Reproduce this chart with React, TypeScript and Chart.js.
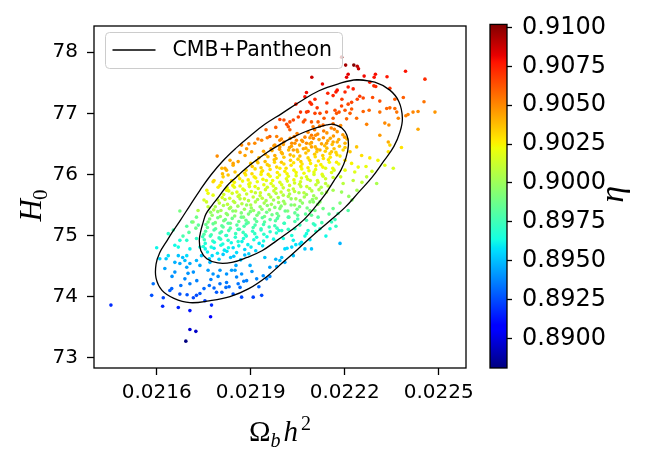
import { useEffect, useRef } from "react";
import { Chart, registerables } from "chart.js";

Chart.register(...registerables);

// Each sample is [Ω_b h², H0, η]
type Sample = [number, number, number];

const omegaTicks = [0.0216, 0.0219, 0.0222, 0.0225];
const hubbleTicks = [73, 74, 75, 76, 77, 78];
const etaTicks = [0.89, 0.8925, 0.895, 0.8975, 0.9, 0.9025, 0.905, 0.9075, 0.91];
const omegaRange = [0.0214, 0.022587];
const hubbleRange = [72.83, 78.43];
const etaRange = [0.8881, 0.9102];

const seriesLabel = "CMB+Pantheon";

// 1σ and 2σ confidence contours, [Ω_b h², H0]
const contourInner: [number, number][] = [
  [0.022165, 76.82], [0.022191, 76.76], [0.022207, 76.64], [0.022212, 76.48], [0.022204, 76.27],
  [0.022188, 76.07], [0.022165, 75.89], [0.02214, 75.69], [0.022108, 75.48], [0.02207, 75.26],
  [0.022028, 75.08], [0.021984, 74.92], [0.021936, 74.75], [0.021888, 74.64], [0.02184, 74.56],
  [0.021795, 74.55], [0.02176, 74.62], [0.021741, 74.75], [0.021736, 74.92], [0.021741, 75.08],
  [0.021748, 75.21], [0.021757, 75.35], [0.021776, 75.49], [0.021799, 75.64], [0.021824, 75.81],
  [0.021853, 75.95], [0.021885, 76.1], [0.021917, 76.23], [0.021952, 76.36], [0.02199, 76.48],
  [0.022028, 76.59], [0.02207, 76.69], [0.022114, 76.77], [0.022143, 76.81],
];
const contourOuter: [number, number][] = [
  [0.022239, 77.55], [0.022296, 77.51], [0.022344, 77.38], [0.022373, 77.19], [0.022384, 76.92],
  [0.022376, 76.69], [0.022357, 76.46], [0.022325, 76.22], [0.022287, 75.95], [0.022245, 75.71],
  [0.022201, 75.46], [0.02215, 75.23], [0.022098, 75.0], [0.022051, 74.78], [0.022003, 74.56],
  [0.021952, 74.33], [0.021894, 74.13], [0.021834, 74.0], [0.021767, 73.93], [0.021706, 73.9],
  [0.021655, 73.97], [0.021617, 74.1], [0.021598, 74.3], [0.021598, 74.53], [0.02161, 74.72],
  [0.02163, 74.89], [0.021652, 75.07], [0.021677, 75.26], [0.021706, 75.49], [0.021738, 75.74],
  [0.021773, 75.99], [0.021811, 76.22], [0.021853, 76.43], [0.021898, 76.63], [0.021945, 76.82],
  [0.022, 77.0], [0.022057, 77.19], [0.022118, 77.37], [0.022178, 77.48],
];

// chain samples in the tails, outside the dense core
const haloSamples: Sample[] = [
  [0.02219, 77.92, 0.9099], [0.022203, 77.79, 0.9095], [0.022229, 77.79, 0.9102], [0.02224, 77.77, 0.909],
  [0.022244, 77.73, 0.9088], [0.022394, 77.69, 0.9078], [0.022211, 77.64, 0.9083], [0.022206, 77.59, 0.9082],
  [0.022262, 77.61, 0.908], [0.022298, 77.64, 0.9079], [0.022294, 77.59, 0.9078], [0.022335, 77.6, 0.9077],
  [0.022095, 77.59, 0.9088], [0.022456, 77.56, 0.9072], [0.022129, 77.48, 0.9082], [0.02228, 77.51, 0.9076],
  [0.022293, 77.45, 0.9073], [0.022299, 77.44, 0.9072], [0.022344, 77.41, 0.907], [0.022211, 77.43, 0.9077],
  [0.022227, 77.4, 0.9075], [0.022176, 77.38, 0.9077], [0.022163, 77.29, 0.9074], [0.022172, 77.35, 0.9076],
  [0.022073, 77.27, 0.9078], [0.022078, 77.34, 0.908], [0.02224, 77.23, 0.9067], [0.022259, 77.25, 0.9066],
  [0.022289, 77.26, 0.9065], [0.022387, 77.26, 0.906], [0.02236, 77.23, 0.9061], [0.022089, 77.18, 0.9073],
  [0.022094, 77.15, 0.9072], [0.022112, 77.09, 0.907], [0.02219, 77.12, 0.9066], [0.022211, 77.15, 0.9065],
  [0.022222, 77.18, 0.9066], [0.022453, 77.19, 0.9055], [0.022344, 77.09, 0.9058], [0.02236, 77.08, 0.9057],
  [0.022334, 77.08, 0.9059], [0.022083, 77.03, 0.907], [0.022169, 77.05, 0.9064], [0.022174, 77.0, 0.9062],
  [0.022312, 77.02, 0.9056], [0.022278, 77.05, 0.9058], [0.022259, 77.03, 0.9059], [0.022222, 77.07, 0.9062],
  [0.022217, 77.0, 0.906], [0.022201, 77.05, 0.9062], [0.022182, 77.02, 0.9063], [0.022142, 77.02, 0.9065],
  [0.022121, 77.0, 0.9066], [0.022105, 77.0, 0.9067], [0.022078, 77.02, 0.9069], [0.022059, 77.02, 0.907],
  [0.022402, 76.98, 0.9052], [0.022418, 77.02, 0.9051], [0.022434, 77.03, 0.905], [0.022488, 77.02, 0.9047],
  [0.022395, 76.96, 0.9052], [0.022052, 76.94, 0.9067], [0.022073, 76.89, 0.9064], [0.022134, 76.92, 0.9062],
  [0.022163, 76.92, 0.906], [0.022206, 76.91, 0.9058], [0.022238, 76.92, 0.9057], [0.022371, 76.92, 0.9051],
  [0.022036, 76.89, 0.9066], [0.022015, 76.82, 0.9065], [0.022094, 76.86, 0.9061], [0.02227, 76.82, 0.9052],
  [0.022328, 76.84, 0.905], [0.022434, 76.74, 0.9043], [0.022312, 76.64, 0.9046], [0.022339, 76.53, 0.9042],
  [0.022025, 76.86, 0.9064], [0.021993, 76.9, 0.9068], [0.02202, 76.78, 0.9062], [0.022025, 76.73, 0.906],
  [0.021961, 76.62, 0.906], [0.022238, 76.45, 0.9036], [0.022217, 76.37, 0.9035], [0.022254, 76.31, 0.903],
  [0.022344, 76.48, 0.9032], [0.022339, 76.37, 0.9029], [0.022381, 76.44, 0.9029], [0.022355, 76.1, 0.9016],
  [0.022328, 76.15, 0.9019], [0.022268, 76.13, 0.9021], [0.022243, 76.12, 0.9022], [0.022222, 76.18, 0.9025],
  [0.022201, 76.23, 0.9028], [0.022227, 75.9, 0.901], [0.02227, 75.96, 0.901], [0.022302, 75.85, 0.9004],
  [0.022187, 75.96, 0.9014], [0.022195, 75.85, 0.9008], [0.02219, 75.71, 0.9], [0.022163, 75.74, 0.9003],
  [0.022163, 75.44, 0.8987], [0.022131, 75.44, 0.8989], [0.022121, 75.55, 0.8995], [0.022105, 75.41, 0.8988],
  [0.0221, 75.55, 0.8996], [0.022094, 75.33, 0.8984], [0.022115, 75.3, 0.8981], [0.022211, 75.41, 0.898],
  [0.022179, 75.36, 0.898], [0.022169, 75.26, 0.8975], [0.022158, 75.22, 0.8973], [0.022153, 75.11, 0.8967],
  [0.022121, 75.11, 0.8969], [0.0221, 75.19, 0.8974], [0.022083, 75.08, 0.8968], [0.022078, 75.25, 0.8977],
  [0.022057, 75.17, 0.8974], [0.022041, 75.11, 0.8971], [0.022031, 75.0, 0.8966], [0.022036, 74.92, 0.8961],
  [0.022062, 74.89, 0.8958], [0.022089, 74.93, 0.8958], [0.022073, 74.78, 0.8952], [0.022094, 74.78, 0.8951],
  [0.022185, 74.87, 0.8948], [0.022004, 74.95, 0.8964], [0.021999, 75.08, 0.897], [0.022009, 74.78, 0.8956],
  [0.022036, 74.67, 0.895], [0.021993, 74.59, 0.8949], [0.022031, 74.81, 0.8955], [0.022057, 74.86, 0.8956],
  [0.022078, 75.03, 0.8965], [0.022105, 75.17, 0.8971], [0.021919, 74.29, 0.8938], [0.02194, 74.34, 0.8939],
  [0.021983, 74.49, 0.8944], [0.021999, 74.64, 0.895], [0.022009, 74.56, 0.8946], [0.021961, 74.48, 0.8944],
  [0.021945, 74.64, 0.8951], [0.021898, 74.51, 0.8946], [0.02185, 74.43, 0.8943], [0.021823, 74.37, 0.8941],
  [0.021796, 74.33, 0.894], [0.02178, 74.37, 0.8941], [0.021764, 74.43, 0.8943], [0.021706, 74.21, 0.8936],
  [0.02169, 74.29, 0.8938], [0.021717, 74.4, 0.8941], [0.021696, 74.48, 0.8944], [0.021658, 74.56, 0.8947],
  [0.021674, 74.54, 0.8946], [0.021706, 74.54, 0.8946], [0.021738, 74.51, 0.8945], [0.021727, 74.59, 0.8948],
  [0.021683, 74.64, 0.895], [0.021669, 74.67, 0.8951], [0.021589, 74.21, 0.8933], [0.021584, 74.02, 0.8926],
  [0.021454, 73.86, 0.8918], [0.021642, 74.1, 0.8929], [0.021648, 74.13, 0.893], [0.021621, 73.98, 0.8924],
  [0.021619, 73.84, 0.8917], [0.021674, 74.04, 0.8926], [0.021669, 73.82, 0.8916], [0.021706, 73.77, 0.8913],
  [0.021706, 73.46, 0.8897], [0.021725, 73.43, 0.8895], [0.021693, 73.27, 0.8881], [0.021727, 74.02, 0.8925],
  [0.021717, 73.98, 0.8924], [0.021754, 73.93, 0.8922], [0.021768, 74.18, 0.8933], [0.021783, 74.14, 0.8931],
  [0.021791, 74.07, 0.8928], [0.021775, 73.86, 0.8918], [0.021772, 73.67, 0.8906], [0.021823, 74.23, 0.8935],
  [0.021821, 74.15, 0.8932], [0.021844, 74.04, 0.8927], [0.021871, 73.99, 0.8924], [0.021908, 73.99, 0.8923],
  [0.021935, 74.02, 0.8924], [0.02186, 74.21, 0.8934], [0.021855, 74.32, 0.8938], [0.021887, 74.26, 0.8936],
  [0.021951, 74.29, 0.8937], [0.021637, 75.03, 0.897], [0.021674, 74.92, 0.8966], [0.021658, 74.84, 0.8963],
  [0.021706, 74.78, 0.8961], [0.02169, 74.59, 0.895], [0.021743, 74.67, 0.8953], [0.02177, 74.56, 0.8948],
  [0.021658, 74.4, 0.8941], [0.021839, 74.43, 0.8943], [0.021871, 74.37, 0.894], [0.021802, 74.21, 0.8934],
  [0.021866, 74.15, 0.8932], [0.021793, 76.3, 0.9049], [0.021823, 76.07, 0.904], [0.02181, 76.01, 0.9038],
  [0.021828, 75.99, 0.9036], [0.021844, 76.15, 0.9041], [0.02185, 76.04, 0.9036], [0.021807, 75.87, 0.903],
  [0.021796, 75.79, 0.9026], [0.02178, 75.66, 0.902], [0.021759, 75.55, 0.9014], [0.021764, 75.47, 0.901],
  [0.021674, 75.4, 0.899], [0.021727, 75.3, 0.8988], [0.021712, 75.22, 0.8984], [0.021733, 75.17, 0.8983],
  [0.021696, 75.15, 0.8982], [0.021653, 75.09, 0.8978], [0.021696, 74.92, 0.897], [0.021727, 74.95, 0.8971],
  [0.021738, 74.81, 0.8964], [0.021669, 74.81, 0.8964], [0.0216, 74.8, 0.8962], [0.021637, 74.67, 0.8958],
  [0.021696, 74.67, 0.8957], [0.02161, 74.62, 0.8955], [0.021871, 76.48, 0.905], [0.021887, 76.42, 0.9047],
  [0.021903, 76.37, 0.9045], [0.021882, 76.31, 0.9044], [0.021913, 76.51, 0.905], [0.021935, 76.56, 0.9051],
  [0.021953, 76.6, 0.9053], [0.021983, 76.62, 0.9052], [0.021993, 76.56, 0.905], [0.021977, 76.48, 0.9047],
  [0.021993, 76.45, 0.9045], [0.022068, 76.86, 0.9063], [0.022115, 76.86, 0.906], [0.022131, 76.81, 0.9058],
  [0.022163, 76.83, 0.9056], [0.022094, 76.64, 0.9054], [0.0221, 76.59, 0.9051], [0.022078, 76.51, 0.9049],
  [0.022046, 76.56, 0.9051], [0.022031, 76.51, 0.9049], [0.022036, 76.4, 0.9045], [0.022068, 76.42, 0.9044],
  [0.022094, 76.45, 0.9044], [0.022121, 76.4, 0.9041], [0.022142, 76.51, 0.9044], [0.022163, 76.53, 0.9043],
  [0.022158, 76.37, 0.9037], [0.021818, 76.1, 0.9042], [0.021844, 76.18, 0.9044], [0.02186, 76.21, 0.9044],
  [0.021812, 75.96, 0.9034], [0.021839, 75.9, 0.903], [0.021802, 75.82, 0.9028], [0.021823, 75.74, 0.9024],
  [0.021764, 75.69, 0.9022], [0.02178, 75.88, 0.9031],
];

// chain samples in the band between the 1σ and 2σ contours
const flankSamples: Sample[] = [
  [0.021626, 74.46, 0.8944], [0.021649, 74.33, 0.894], [0.021677, 74.18, 0.8934], [0.0217, 74.38, 0.8941],
  [0.021728, 74.26, 0.8937], [0.021751, 74.13, 0.8931], [0.021773, 74.28, 0.8937], [0.021802, 74.43, 0.8942],
  [0.021831, 74.16, 0.8932], [0.021853, 74.51, 0.8945], [0.021878, 74.25, 0.8936], [0.021904, 74.41, 0.8941],
  [0.021926, 74.16, 0.8931], [0.021961, 74.33, 0.8938], [0.02198, 74.61, 0.8948], [0.02163, 74.62, 0.8952],
  [0.021738, 74.05, 0.8928], [0.021697, 74.03, 0.8927], [0.021808, 74.07, 0.8928],
  [0.022232, 76.04, 0.9018], [0.022255, 75.87, 0.9009], [0.022287, 76.05, 0.9015], [0.022213, 75.64, 0.8998],
  [0.022239, 75.74, 0.9002], [0.022185, 75.53, 0.8993], [0.02215, 75.35, 0.8984], [0.022127, 75.21, 0.8977],
  [0.022108, 75.07, 0.897], [0.022073, 74.99, 0.8965], [0.022044, 74.85, 0.8958], [0.022016, 74.79, 0.8956],
  [0.022201, 76.07, 0.9021], [0.022306, 76.23, 0.9024], [0.02228, 76.27, 0.9027], [0.022223, 75.58, 0.8994],
  [0.022172, 75.15, 0.8972], [0.02214, 74.99, 0.8963],
  [0.021834, 76.23, 0.9043], [0.021866, 76.36, 0.9047], [0.021894, 76.5, 0.9051], [0.021923, 76.58, 0.9054],
  [0.021949, 76.73, 0.9059], [0.02198, 76.77, 0.906], [0.022006, 76.89, 0.9064], [0.021808, 76.1, 0.9039],
  [0.021783, 75.9, 0.9031], [0.02176, 75.74, 0.9024], [0.021751, 75.58, 0.9015], [0.021732, 75.41, 0.9006],
  [0.021716, 75.22, 0.8994], [0.021703, 75.05, 0.8982], [0.021684, 74.99, 0.8978], [0.021725, 75.12, 0.8987],
  [0.022044, 77.15, 0.9074], [0.022105, 77.23, 0.9073], [0.022146, 77.33, 0.9074], [0.022201, 77.35, 0.9073],
  [0.022248, 77.28, 0.9069], [0.022312, 77.2, 0.9064], [0.022366, 77.02, 0.9055], [0.022341, 76.81, 0.9049],
  [0.022191, 77.23, 0.9069], [0.022143, 77.17, 0.907],
];

// chain samples inside the 1σ region, row by row in H0
const coreSamples: Sample[] = [
  [0.022099, 76.78, 0.9054], [0.022104, 76.73, 0.9054], [0.02212, 76.79, 0.9053], [0.022133, 76.71, 0.9053], [0.022157, 76.76, 0.9052], [0.022167, 76.74, 0.9051], [0.022187, 76.8, 0.905],
  [0.022039, 76.62, 0.9053], [0.022048, 76.67, 0.9052], [0.022073, 76.61, 0.9051], [0.022083, 76.69, 0.9051], [0.022107, 76.64, 0.9049], [0.022114, 76.66, 0.9049], [0.022132, 76.6, 0.9048], [0.022143, 76.68, 0.9047], [0.022164, 76.63, 0.9046], [0.022176, 76.7, 0.9046], [0.022194, 76.65, 0.9045], [0.0222, 76.61, 0.9045],
  [0.021998, 76.58, 0.905], [0.022006, 76.53, 0.905], [0.022026, 76.59, 0.9049], [0.022041, 76.51, 0.9048], [0.022063, 76.56, 0.9047], [0.022066, 76.54, 0.9047], [0.022089, 76.6, 0.9045], [0.022094, 76.52, 0.9045], [0.022118, 76.57, 0.9044], [0.022126, 76.5, 0.9044], [0.022146, 76.55, 0.9043], [0.022154, 76.59, 0.9042], [0.022176, 76.53, 0.9041], [0.022181, 76.57, 0.9041], [0.022201, 76.51, 0.904], [0.022207, 76.58, 0.904],
  [0.021965, 76.42, 0.9047], [0.021974, 76.47, 0.9046], [0.021992, 76.41, 0.9046], [0.022004, 76.49, 0.9045], [0.022024, 76.44, 0.9044], [0.02203, 76.46, 0.9044], [0.022048, 76.4, 0.9043], [0.022056, 76.48, 0.9042], [0.022076, 76.43, 0.9041], [0.022089, 76.5, 0.9041], [0.022106, 76.45, 0.904], [0.022112, 76.41, 0.904], [0.022136, 76.47, 0.9038], [0.022143, 76.43, 0.9038], [0.02216, 76.49, 0.9037], [0.022166, 76.42, 0.9037], [0.022183, 76.46, 0.9036], [0.022201, 76.44, 0.9035],
  [0.021941, 76.38, 0.9043], [0.021947, 76.33, 0.9043], [0.021968, 76.39, 0.9042], [0.021977, 76.31, 0.9042], [0.021998, 76.36, 0.904], [0.022001, 76.34, 0.904], [0.022021, 76.4, 0.9039], [0.022026, 76.32, 0.9039], [0.02205, 76.37, 0.9038], [0.022057, 76.3, 0.9038], [0.022076, 76.35, 0.9037], [0.022084, 76.39, 0.9036], [0.022104, 76.33, 0.9035], [0.022111, 76.37, 0.9035], [0.02213, 76.31, 0.9034], [0.022138, 76.38, 0.9033], [0.022153, 76.34, 0.9033], [0.022172, 76.36, 0.9032], [0.022175, 76.32, 0.9032], [0.022195, 76.4, 0.9031],
  [0.02192, 76.22, 0.904], [0.021926, 76.27, 0.9039], [0.021946, 76.21, 0.9038], [0.021955, 76.29, 0.9038], [0.021975, 76.24, 0.9037], [0.021981, 76.26, 0.9037], [0.021998, 76.2, 0.9036], [0.022006, 76.28, 0.9035], [0.022027, 76.23, 0.9034], [0.022037, 76.3, 0.9034], [0.022051, 76.25, 0.9033], [0.02206, 76.21, 0.9033], [0.022083, 76.27, 0.9032], [0.022088, 76.23, 0.9031], [0.022106, 76.29, 0.903], [0.022116, 76.22, 0.903], [0.022132, 76.26, 0.9029], [0.022148, 76.24, 0.9028], [0.022154, 76.28, 0.9028], [0.022174, 76.2, 0.9027], [0.022185, 76.3, 0.9026],
  [0.0219, 76.18, 0.9036], [0.021905, 76.13, 0.9036], [0.021923, 76.19, 0.9035], [0.021933, 76.11, 0.9034], [0.021953, 76.16, 0.9033], [0.021959, 76.14, 0.9033], [0.021976, 76.2, 0.9032], [0.021983, 76.12, 0.9032], [0.022006, 76.17, 0.9031], [0.022013, 76.1, 0.903], [0.022029, 76.15, 0.9029], [0.022037, 76.19, 0.9029], [0.02206, 76.13, 0.9028], [0.022064, 76.17, 0.9028], [0.022083, 76.11, 0.9027], [0.022091, 76.18, 0.9026], [0.022108, 76.14, 0.9026], [0.022124, 76.16, 0.9025], [0.02213, 76.12, 0.9024], [0.022151, 76.2, 0.9023], [0.022162, 76.1, 0.9023], [0.022181, 76.17, 0.9022],
  [0.021881, 76.02, 0.9032], [0.021885, 76.07, 0.9032], [0.021904, 76.01, 0.9031], [0.021914, 76.09, 0.903], [0.021934, 76.04, 0.9029], [0.021938, 76.06, 0.9029], [0.021956, 76.0, 0.9028], [0.021962, 76.08, 0.9028], [0.021985, 76.03, 0.9027], [0.021993, 76.1, 0.9026], [0.022009, 76.05, 0.9026], [0.022016, 76.01, 0.9025], [0.022038, 76.07, 0.9024], [0.022045, 76.03, 0.9024], [0.022063, 76.09, 0.9023], [0.02207, 76.02, 0.9023], [0.022086, 76.06, 0.9022], [0.022102, 76.04, 0.9021], [0.022107, 76.08, 0.9021], [0.022128, 76.0, 0.902], [0.022139, 76.1, 0.9019], [0.022158, 76.03, 0.9018], [0.022166, 76.07, 0.9018],
  [0.02186, 75.98, 0.9028], [0.021865, 75.93, 0.9028], [0.021884, 75.99, 0.9027], [0.021892, 75.91, 0.9027], [0.021911, 75.96, 0.9026], [0.021916, 75.94, 0.9026], [0.021933, 76.0, 0.9025], [0.021939, 75.92, 0.9024], [0.021962, 75.97, 0.9023], [0.02197, 75.9, 0.9023], [0.021985, 75.95, 0.9022], [0.021992, 75.99, 0.9022], [0.022014, 75.93, 0.9021], [0.02202, 75.97, 0.902], [0.022038, 75.91, 0.902], [0.022045, 75.98, 0.9019], [0.022062, 75.94, 0.9018], [0.022078, 75.96, 0.9018], [0.022082, 75.92, 0.9017], [0.022102, 76.0, 0.9016], [0.022113, 75.9, 0.9016], [0.022131, 75.97, 0.9015], [0.022139, 75.93, 0.9014], [0.022163, 75.95, 0.9013],
  [0.021843, 75.82, 0.9025], [0.021848, 75.87, 0.9024], [0.021866, 75.81, 0.9023], [0.021874, 75.89, 0.9023], [0.021894, 75.84, 0.9022], [0.021898, 75.86, 0.9022], [0.021914, 75.8, 0.9021], [0.021921, 75.88, 0.9021], [0.021942, 75.83, 0.902], [0.02195, 75.9, 0.9019], [0.021965, 75.85, 0.9018], [0.021972, 75.81, 0.9018], [0.021993, 75.87, 0.9017], [0.021999, 75.83, 0.9017], [0.022017, 75.89, 0.9016], [0.022024, 75.82, 0.9015], [0.02204, 75.86, 0.9015], [0.022056, 75.84, 0.9014], [0.022059, 75.88, 0.9014], [0.022079, 75.8, 0.9013], [0.02209, 75.9, 0.9012], [0.022108, 75.83, 0.9011], [0.022115, 75.87, 0.9011], [0.022139, 75.85, 0.901], [0.022147, 75.81, 0.9009],
  [0.021825, 75.78, 0.9021], [0.02183, 75.73, 0.902], [0.021848, 75.79, 0.902], [0.021856, 75.71, 0.9019], [0.021875, 75.76, 0.9018], [0.02188, 75.74, 0.9018], [0.021896, 75.8, 0.9017], [0.021902, 75.72, 0.9017], [0.021924, 75.77, 0.9016], [0.021931, 75.7, 0.9015], [0.021947, 75.75, 0.9015], [0.021953, 75.79, 0.9014], [0.021974, 75.73, 0.9013], [0.02198, 75.77, 0.9013], [0.021997, 75.71, 0.9012], [0.022004, 75.78, 0.9012], [0.022021, 75.74, 0.9011], [0.022036, 75.76, 0.901], [0.02204, 75.72, 0.901], [0.02206, 75.8, 0.9009], [0.02207, 75.7, 0.9008], [0.022088, 75.77, 0.9008], [0.022095, 75.73, 0.9007], [0.022118, 75.75, 0.9006], [0.022125, 75.79, 0.9006], [0.022142, 75.71, 0.9005],
  [0.021809, 75.62, 0.9016], [0.021814, 75.67, 0.9015], [0.021833, 75.61, 0.9014], [0.021841, 75.69, 0.9014], [0.02186, 75.64, 0.9013], [0.021864, 75.66, 0.9013], [0.02188, 75.6, 0.9012], [0.021887, 75.68, 0.9012], [0.021908, 75.63, 0.9011], [0.021915, 75.7, 0.901], [0.02193, 75.65, 0.901], [0.021937, 75.61, 0.9009], [0.021958, 75.67, 0.9008], [0.021964, 75.63, 0.9008], [0.021981, 75.69, 0.9007], [0.021988, 75.62, 0.9007], [0.022004, 75.66, 0.9006], [0.02202, 75.64, 0.9005], [0.022024, 75.68, 0.9005], [0.022044, 75.6, 0.9004], [0.022054, 75.7, 0.9003], [0.022071, 75.63, 0.9003], [0.022078, 75.67, 0.9002], [0.022101, 75.65, 0.9001], [0.022109, 75.61, 0.9001], [0.022127, 75.69, 0.9],
  [0.021795, 75.58, 0.9011], [0.0218, 75.53, 0.901], [0.021818, 75.59, 0.901], [0.021826, 75.51, 0.9009], [0.021845, 75.56, 0.9008], [0.021849, 75.54, 0.9008], [0.021866, 75.6, 0.9007], [0.021872, 75.52, 0.9007], [0.021893, 75.57, 0.9006], [0.0219, 75.5, 0.9005], [0.021915, 75.55, 0.9005], [0.021922, 75.59, 0.9004], [0.021943, 75.53, 0.9003], [0.021949, 75.57, 0.9003], [0.021966, 75.51, 0.9002], [0.021973, 75.58, 0.9002], [0.021989, 75.54, 0.9001], [0.022005, 75.56, 0.9], [0.022009, 75.52, 0.9], [0.022029, 75.6, 0.8999], [0.02204, 75.5, 0.8998], [0.022058, 75.57, 0.8998], [0.022065, 75.53, 0.8997], [0.022089, 75.55, 0.8996], [0.022097, 75.59, 0.8996], [0.022114, 75.51, 0.8995],
  [0.021782, 75.42, 0.9005], [0.021787, 75.47, 0.9004], [0.021805, 75.41, 0.9003], [0.021813, 75.49, 0.9003], [0.021832, 75.44, 0.9002], [0.021836, 75.46, 0.9002], [0.021852, 75.4, 0.9001], [0.021859, 75.48, 0.9001], [0.02188, 75.43, 0.9], [0.021887, 75.5, 0.8999], [0.021902, 75.45, 0.8999], [0.021909, 75.41, 0.8998], [0.02193, 75.47, 0.8997], [0.021936, 75.43, 0.8997], [0.021953, 75.49, 0.8996], [0.02196, 75.42, 0.8996], [0.021977, 75.46, 0.8995], [0.021993, 75.44, 0.8994], [0.021997, 75.48, 0.8994], [0.022018, 75.4, 0.8993], [0.022029, 75.5, 0.8992], [0.022048, 75.43, 0.8991], [0.022056, 75.47, 0.8991], [0.02208, 75.45, 0.899], [0.022089, 75.41, 0.8989],
  [0.021772, 75.38, 0.8998], [0.021777, 75.33, 0.8998], [0.021795, 75.39, 0.8997], [0.021803, 75.31, 0.8997], [0.021822, 75.36, 0.8996], [0.021826, 75.34, 0.8996], [0.021843, 75.4, 0.8995], [0.021849, 75.32, 0.8994], [0.02187, 75.37, 0.8993], [0.021877, 75.3, 0.8993], [0.021893, 75.35, 0.8992], [0.021899, 75.39, 0.8992], [0.02192, 75.33, 0.8991], [0.021926, 75.37, 0.8991], [0.021944, 75.31, 0.899], [0.021951, 75.38, 0.8989], [0.021968, 75.34, 0.8988], [0.021984, 75.36, 0.8988], [0.021989, 75.32, 0.8987], [0.02201, 75.4, 0.8986], [0.022022, 75.3, 0.8986], [0.022041, 75.37, 0.8985], [0.02205, 75.33, 0.8984], [0.022075, 75.35, 0.8983],
  [0.021764, 75.22, 0.8992], [0.021769, 75.27, 0.8992], [0.021787, 75.21, 0.8991], [0.021795, 75.29, 0.899], [0.021814, 75.24, 0.8989], [0.021819, 75.26, 0.8989], [0.021835, 75.2, 0.8988], [0.021841, 75.28, 0.8988], [0.021862, 75.23, 0.8987], [0.02187, 75.3, 0.8987], [0.021885, 75.25, 0.8986], [0.021892, 75.21, 0.8986], [0.021913, 75.27, 0.8985], [0.021919, 75.23, 0.8984], [0.021937, 75.29, 0.8983], [0.021944, 75.22, 0.8983], [0.021962, 75.26, 0.8982], [0.021979, 75.24, 0.8981], [0.021985, 75.28, 0.8981], [0.022007, 75.2, 0.898], [0.02202, 75.3, 0.8979], [0.022041, 75.23, 0.8978], [0.02205, 75.27, 0.8978],
  [0.021757, 75.18, 0.8986], [0.021762, 75.13, 0.8985], [0.02178, 75.19, 0.8984], [0.021788, 75.11, 0.8984], [0.021808, 75.16, 0.8983], [0.021812, 75.14, 0.8983], [0.021828, 75.2, 0.8982], [0.021835, 75.12, 0.8982], [0.021856, 75.17, 0.8981], [0.021864, 75.1, 0.898], [0.021879, 75.15, 0.8979], [0.021886, 75.19, 0.8979], [0.021908, 75.13, 0.8978], [0.021914, 75.17, 0.8978], [0.021933, 75.11, 0.8977], [0.021941, 75.18, 0.8976], [0.021959, 75.14, 0.8975], [0.021977, 75.16, 0.8975], [0.021984, 75.12, 0.8974], [0.022007, 75.2, 0.8973], [0.02202, 75.1, 0.8972],
  [0.021751, 75.02, 0.898], [0.021756, 75.07, 0.898], [0.021774, 75.01, 0.8979], [0.021783, 75.09, 0.8978], [0.021802, 75.04, 0.8978], [0.021807, 75.06, 0.8977], [0.021823, 75.0, 0.8976], [0.02183, 75.08, 0.8976], [0.021852, 75.03, 0.8975], [0.02186, 75.1, 0.8975], [0.021876, 75.05, 0.8974], [0.021883, 75.01, 0.8973], [0.021906, 75.07, 0.8972], [0.021913, 75.03, 0.8972], [0.021933, 75.09, 0.8971], [0.021942, 75.02, 0.8971], [0.021962, 75.06, 0.897], [0.021982, 75.04, 0.8969], [0.02199, 75.08, 0.8968],
  [0.021747, 74.98, 0.8975], [0.021752, 74.93, 0.8974], [0.021771, 74.99, 0.8973], [0.021779, 74.91, 0.8973], [0.021799, 74.96, 0.8972], [0.021804, 74.94, 0.8972], [0.021821, 75.0, 0.8971], [0.021828, 74.92, 0.897], [0.021851, 74.97, 0.8969], [0.02186, 74.9, 0.8969], [0.021877, 74.95, 0.8968], [0.021886, 74.99, 0.8968], [0.02191, 74.93, 0.8966], [0.021919, 74.97, 0.8966], [0.021941, 74.91, 0.8965], [0.021952, 74.98, 0.8964], [0.021973, 74.94, 0.8963],
  [0.021749, 74.82, 0.8968], [0.021755, 74.87, 0.8967], [0.021774, 74.81, 0.8966], [0.021784, 74.89, 0.8966], [0.021805, 74.84, 0.8965], [0.021811, 74.86, 0.8965], [0.021829, 74.8, 0.8964], [0.021838, 74.88, 0.8963], [0.021862, 74.83, 0.8962], [0.021872, 74.9, 0.8962], [0.021891, 74.85, 0.8961], [0.021901, 74.81, 0.896], [0.021927, 74.87, 0.8959], [0.021938, 74.83, 0.8958],
  [0.021755, 74.78, 0.8962], [0.021762, 74.73, 0.8961], [0.021783, 74.79, 0.896], [0.021794, 74.71, 0.896], [0.021816, 74.76, 0.8959], [0.021824, 74.74, 0.8958], [0.021844, 74.8, 0.8957], [0.021855, 74.72, 0.8957], [0.021881, 74.77, 0.8955], [0.021894, 74.7, 0.8955], [0.021916, 74.75, 0.8954],
  [0.021768, 74.62, 0.8955], [0.021777, 74.67, 0.8955], [0.021799, 74.61, 0.8954], [0.021812, 74.69, 0.8953], [0.021836, 74.64, 0.8952], [0.021846, 74.66, 0.8951], [0.021868, 74.6, 0.895], [0.021881, 74.68, 0.895],
];

// matplotlib "jet" colormap segments
const JET_R: [number, number][] = [[0, 0], [0.35, 0], [0.66, 1], [0.89, 1], [1, 0.5]];
const JET_G: [number, number][] = [[0, 0], [0.125, 0], [0.375, 1], [0.64, 1], [0.91, 0], [1, 0]];
const JET_B: [number, number][] = [[0, 0.5], [0.11, 1], [0.34, 1], [0.65, 0], [1, 0]];
const JET_STOPS = [0, 0.11, 0.125, 0.34, 0.35, 0.375, 0.64, 0.65, 0.66, 0.89, 0.91, 1];

function ramp(seg: [number, number][], t: number): number {
  for (let i = 1; i < seg.length; i++) {
    if (t <= seg[i][0]) {
      const [t0, v0] = seg[i - 1];
      const [t1, v1] = seg[i];
      return v0 + ((v1 - v0) * (t - t0)) / (t1 - t0);
    }
  }
  return seg[seg.length - 1][1];
}

function jet(t: number): string {
  const u = Math.min(1, Math.max(0, t));
  const c = (s: [number, number][]) => Math.round(255 * ramp(s, u));
  return `rgb(${c(JET_R)},${c(JET_G)},${c(JET_B)})`;
}

const etaNorm = (v: number) => (v - etaRange[0]) / (etaRange[1] - etaRange[0]);

const MATH_FONT = '"Liberation Serif"';
const TEXT_FONT = '"DejaVu Sans"';

const decorPlugin = {
  id: "decor",
  afterDatasetsDraw(chart: any) {
    const { ctx, chartArea: a } = chart;
    ctx.save();
    // axes frame
    ctx.strokeStyle = "#000";
    ctx.lineWidth = 1.3;
    ctx.strokeRect(a.left, a.top, a.right - a.left, a.bottom - a.top);

    // legend box
    const lx = a.left + 11.5;
    const ly = a.top + 6.5;
    ctx.beginPath();
    ctx.roundRect(lx, ly, 237, 36, 4);
    ctx.fillStyle = "rgba(255,255,255,0.8)";
    ctx.fill();
    ctx.strokeStyle = "#cccccc";
    ctx.lineWidth = 1;
    ctx.stroke();
    ctx.beginPath();
    ctx.moveTo(lx + 7, ly + 17.5);
    ctx.lineTo(lx + 50, ly + 17.5);
    ctx.strokeStyle = "#000";
    ctx.lineWidth = 1.3;
    ctx.stroke();
    ctx.fillStyle = "#000";
    ctx.font = `20.5px ${TEXT_FONT}`;
    ctx.textAlign = "left";
    ctx.textBaseline = "middle";
    ctx.fillText(chart.data.datasets[0].label, lx + 67, ly + 18.5);
    ctx.restore();
  },
  afterDraw(chart: any) {
    const { ctx, chartArea: a } = chart;
    ctx.save();
    ctx.fillStyle = "#000";
    ctx.textAlign = "left";
    ctx.textBaseline = "alphabetic";

    // x-axis title: Ω_b h^2
    const big = `29px ${MATH_FONT}`;
    const bigIt = `italic 29px ${MATH_FONT}`;
    const small = `20px ${MATH_FONT}`;
    const smallIt = `italic 20px ${MATH_FONT}`;
    ctx.font = big;
    const wO = ctx.measureText("Ω").width;
    ctx.font = smallIt;
    const wb = ctx.measureText("b").width;
    ctx.font = bigIt;
    const wh = ctx.measureText("h").width;
    ctx.font = small;
    const w2 = ctx.measureText("2").width;
    const total = wO + wb + 3 + wh + 3 + w2;
    let x = (a.left + a.right) / 2 - total / 2;
    const base = 441;
    ctx.font = big;
    ctx.fillText("Ω", x, base);
    x += wO;
    ctx.font = smallIt;
    ctx.fillText("b", x, base + 6);
    x += wb + 3;
    ctx.font = bigIt;
    ctx.fillText("h", x, base);
    x += wh + 3;
    ctx.font = small;
    ctx.fillText("2", x, base - 11);

    // y-axis title: H_0
    ctx.save();
    ctx.translate(41, 205);
    ctx.rotate(-Math.PI / 2);
    ctx.font = `italic 31px ${MATH_FONT}`;
    const wH = ctx.measureText("H").width;
    ctx.font = `21px ${MATH_FONT}`;
    const w0 = ctx.measureText("0").width;
    const start = -(wH + w0) / 2;
    ctx.font = `italic 31px ${MATH_FONT}`;
    ctx.fillText("H", start, 0);
    ctx.font = `21px ${MATH_FONT}`;
    ctx.fillText("0", start + wH - 1, 6);
    ctx.restore();
    ctx.restore();
  },
};

const colorbarPlugin = {
  id: "colorbar",
  beforeDatasetsDraw(chart: any) {
    const { ctx, chartArea: a } = chart;
    const y = chart.scales.y;
    const yTop = y.getPixelForValue(etaRange[1]);
    const yBot = y.getPixelForValue(etaRange[0]);
    const g = ctx.createLinearGradient(0, yBot, 0, yTop);
    JET_STOPS.forEach((t) => g.addColorStop(t, jet(t)));
    ctx.save();
    ctx.fillStyle = g;
    ctx.fillRect(a.left, yTop, a.right - a.left, yBot - yTop);
    ctx.strokeStyle = "#000";
    ctx.lineWidth = 1.3;
    ctx.strokeRect(a.left, yTop, a.right - a.left, yBot - yTop);
    ctx.restore();
  },
  afterDraw(chart: any) {
    const { ctx, chartArea: a } = chart;
    ctx.save();
    ctx.fillStyle = "#000";
    ctx.translate(a.right + 116, (a.top + a.bottom) / 2 - 2);
    ctx.rotate(-Math.PI / 2);
    ctx.font = `italic 34px ${MATH_FONT}`;
    ctx.textAlign = "center";
    ctx.textBaseline = "alphabetic";
    ctx.fillText("η", 0, 0);
    ctx.restore();
  },
};

export default function App() {
  const mainRef = useRef<HTMLCanvasElement>(null);
  const barRef = useRef<HTMLCanvasElement>(null);

  useEffect(() => {
    if (!mainRef.current || !barRef.current) return;
    const samples = [...haloSamples, ...flankSamples, ...coreSamples];
    const closed = (c: [number, number][]) => [...c, c[0], c[1]].map(([x, y]) => ({ x, y }));
    const contourStyle = {
      type: "line" as const,
      showLine: true,
      borderColor: "#000",
      borderWidth: 1.3,
      pointRadius: 0,
      fill: false,
      tension: 0.4,
    };

    const main = new Chart(mainRef.current, {
      type: "scatter",
      data: {
        datasets: [
          { ...contourStyle, label: seriesLabel, data: closed(contourOuter) },
          { ...contourStyle, label: seriesLabel, data: closed(contourInner) },
          {
            label: "samples",
            data: samples.map(([x, y]) => ({ x, y })),
            pointRadius: 1.8,
            pointHoverRadius: 1.8,
            pointBorderWidth: 0,
            pointBackgroundColor: samples.map((s) => jet(etaNorm(s[2]))),
          },
        ] as any,
      },
      options: {
        responsive: false,
        animation: false,
        devicePixelRatio: 1,
        events: [],
        layout: { padding: { left: 0, right: 184, top: 26, bottom: 0 } },
        plugins: { legend: { display: false }, tooltip: { enabled: false } },
        scales: {
          x: {
            type: "linear",
            min: omegaRange[0],
            max: omegaRange[1],
            afterBuildTicks: (s: any) => {
              s.ticks = omegaTicks.map((value) => ({ value }));
            },
            afterFit: (s: any) => {
              s.height = 97;
            },
            border: { display: false },
            grid: { display: true, drawOnChartArea: false, drawTicks: true, tickLength: 7, tickWidth: 1.3, tickColor: "#000" },
            ticks: {
              color: "#000",
              font: { family: "DejaVu Sans", size: 20 },
              padding: 6,
              maxRotation: 0,
              autoSkip: false,
              callback: (v: any) => Number(v).toFixed(4),
            },
          },
          y: {
            type: "linear",
            min: hubbleRange[0],
            max: hubbleRange[1],
            afterBuildTicks: (s: any) => {
              s.ticks = hubbleTicks.map((value) => ({ value }));
            },
            afterFit: (s: any) => {
              s.width = 94;
            },
            border: { display: false },
            grid: { display: true, drawOnChartArea: false, drawTicks: true, tickLength: 7, tickWidth: 1.3, tickColor: "#000" },
            ticks: {
              color: "#000",
              font: { family: "DejaVu Sans", size: 20 },
              padding: 9,
              autoSkip: false,
              callback: (v: any) => String(v),
            },
          },
        },
      },
      plugins: [decorPlugin],
    });

    const bar = new Chart(barRef.current, {
      type: "scatter",
      data: { datasets: [] },
      options: {
        responsive: false,
        animation: false,
        devicePixelRatio: 1,
        events: [],
        layout: { padding: { left: 10, right: 0, top: 21, bottom: 97 } },
        plugins: { legend: { display: false }, tooltip: { enabled: false } },
        scales: {
          x: { display: false },
          y: {
            type: "linear",
            position: "right",
            min: etaRange[0],
            max: etaRange[1],
            afterBuildTicks: (s: any) => {
              s.ticks = etaTicks.map((value) => ({ value }));
            },
            afterFit: (s: any) => {
              s.width = 143;
            },
            border: { display: false },
            grid: { display: true, drawOnChartArea: false, drawTicks: true, tickLength: 5, tickWidth: 1.3, tickColor: "#000" },
            ticks: {
              color: "#000",
              font: { family: "DejaVu Sans", size: 24 },
              padding: 10,
              autoSkip: false,
              callback: (v: any) => Number(v).toFixed(4),
            },
          },
        },
      },
      plugins: [colorbarPlugin],
    });

    return () => {
      main.destroy();
      bar.destroy();
    };
  }, []);

  return (
    <div style={{ position: "fixed", left: 0, top: 0, width: 650, height: 465, background: "#fff" }}>
      <canvas ref={mainRef} width={650} height={465} style={{ position: "absolute", left: 0, top: 0 }} />
      <canvas ref={barRef} width={170} height={465} style={{ position: "absolute", left: 480, top: 0 }} />
    </div>
  );
}
